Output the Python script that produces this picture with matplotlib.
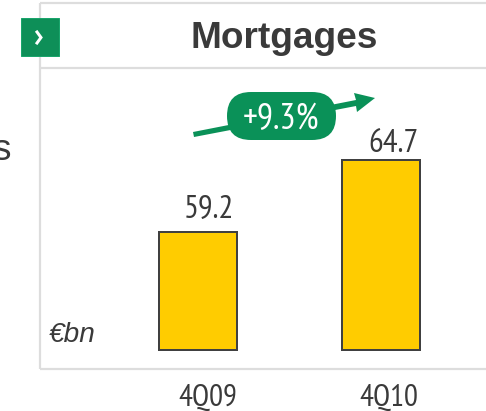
import matplotlib
matplotlib.use("Agg")
import matplotlib.pyplot as plt
from matplotlib.patches import FancyBboxPatch, Polygon, Rectangle

W, H = 486, 411
DARK = "#3a3a3a"
GREEN = "#0a9158"
FRAME = "#dddddd"
NARROW = ["PT Sans Narrow", "Roboto Condensed", "Liberation Sans Narrow", "Liberation Sans", "DejaVu Sans"]
SANS = ["Liberation Sans", "DejaVu Sans"]

categories = ["4Q09", "4Q10"]
values = [59.2, 64.7]
title = "Mortgages"
growth = "+9.3%"
unit = "€bn"
BASE = 50.2


def px(n):
    # pixels to points at dpi 100
    return n * 72 / 100


fig = plt.figure(figsize=(W / 100, H / 100), dpi=100, facecolor="white")

# overlay in pixel coords for the frame and decorations
deco = fig.add_axes([0, 0, 1, 1], zorder=1)
deco.set_xlim(0, W)
deco.set_ylim(H, 0)
deco.axis("off")

for xs, ys in [([40, 486], [3, 3]), ([40, 486], [68.5, 68.5]), ([40, 486], [369, 369]), ([40, 40], [3, 369])]:
    deco.plot(xs, ys, color=FRAME, lw=px(2.2), solid_capstyle="butt")

# tail of a word cut off by the crop on the left
deco.text(-8, 160, "s", fontsize=px(37), color=DARK, family=SANS, ha="left", va="baseline")
deco.text(284, 48, title, fontsize=px(37), fontweight="bold", color=DARK, family=SANS, ha="center", va="baseline")
deco.text(49, 342, unit, fontsize=px(28), style="italic", color=DARK, family=SANS, ha="left", va="baseline")

# green button
deco.add_patch(Rectangle((21, 18), 38, 38, fc="#0e8f58", ec="#1aa56c", lw=px(1), zorder=3))
deco.plot([37, 41, 37], [32, 37.5, 43], color="white", lw=px(3), solid_joinstyle="miter", zorder=4)

# growth arrow with pill
deco.add_patch(Polygon([(193, 132), (356, 100), (354, 93), (375, 98), (357, 112), (356, 106), (194, 137)],
                       closed=True, fc=GREEN, ec="none", zorder=3))
deco.add_patch(FancyBboxPatch((227, 92), 109, 48, boxstyle="round,pad=0,rounding_size=24",
                              fc=GREEN, ec="none", zorder=4))
deco.text(280.5, 129, growth, fontsize=px(36), color="white", family=NARROW, ha="center", va="baseline", zorder=5)

# bars: one axes across the figure width, baseline at the bar foot
ax = fig.add_axes([0, (H - 350) / H, 1, 350 / H], zorder=2)
ax.patch.set_alpha(0)
ax.set_xlim(-198 / 183, (W - 198) / 183)
ax.set_ylim(BASE, BASE + 350 / 13.09)
ax.axis("off")

positions = list(range(len(categories)))
bars = ax.bar(positions, [v - BASE for v in values], bottom=BASE, width=0.425,
              color="#ffcc00", edgecolor="#404040", linewidth=px(2))
for b in bars:
    b.set_clip_on(False)

value_offsets = [(11, 14), (12, 8)]
label_offsets = [10, 8]
for pos, val, off in zip(positions, values, value_offsets):
    ax.annotate(f"{val:.1f}", (pos, val), xytext=(px(off[0]), px(off[1])), textcoords="offset points",
                ha="center", va="baseline", fontsize=px(33), color=DARK, family=NARROW)
for pos, cat, off in zip(positions, categories, label_offsets):
    ax.annotate(cat, (pos, BASE), xytext=(px(off), px(-56)), textcoords="offset points",
                ha="center", va="baseline", fontsize=px(31), color=DARK, family=NARROW, annotation_clip=False)

fig.savefig("out.png", dpi=100)
